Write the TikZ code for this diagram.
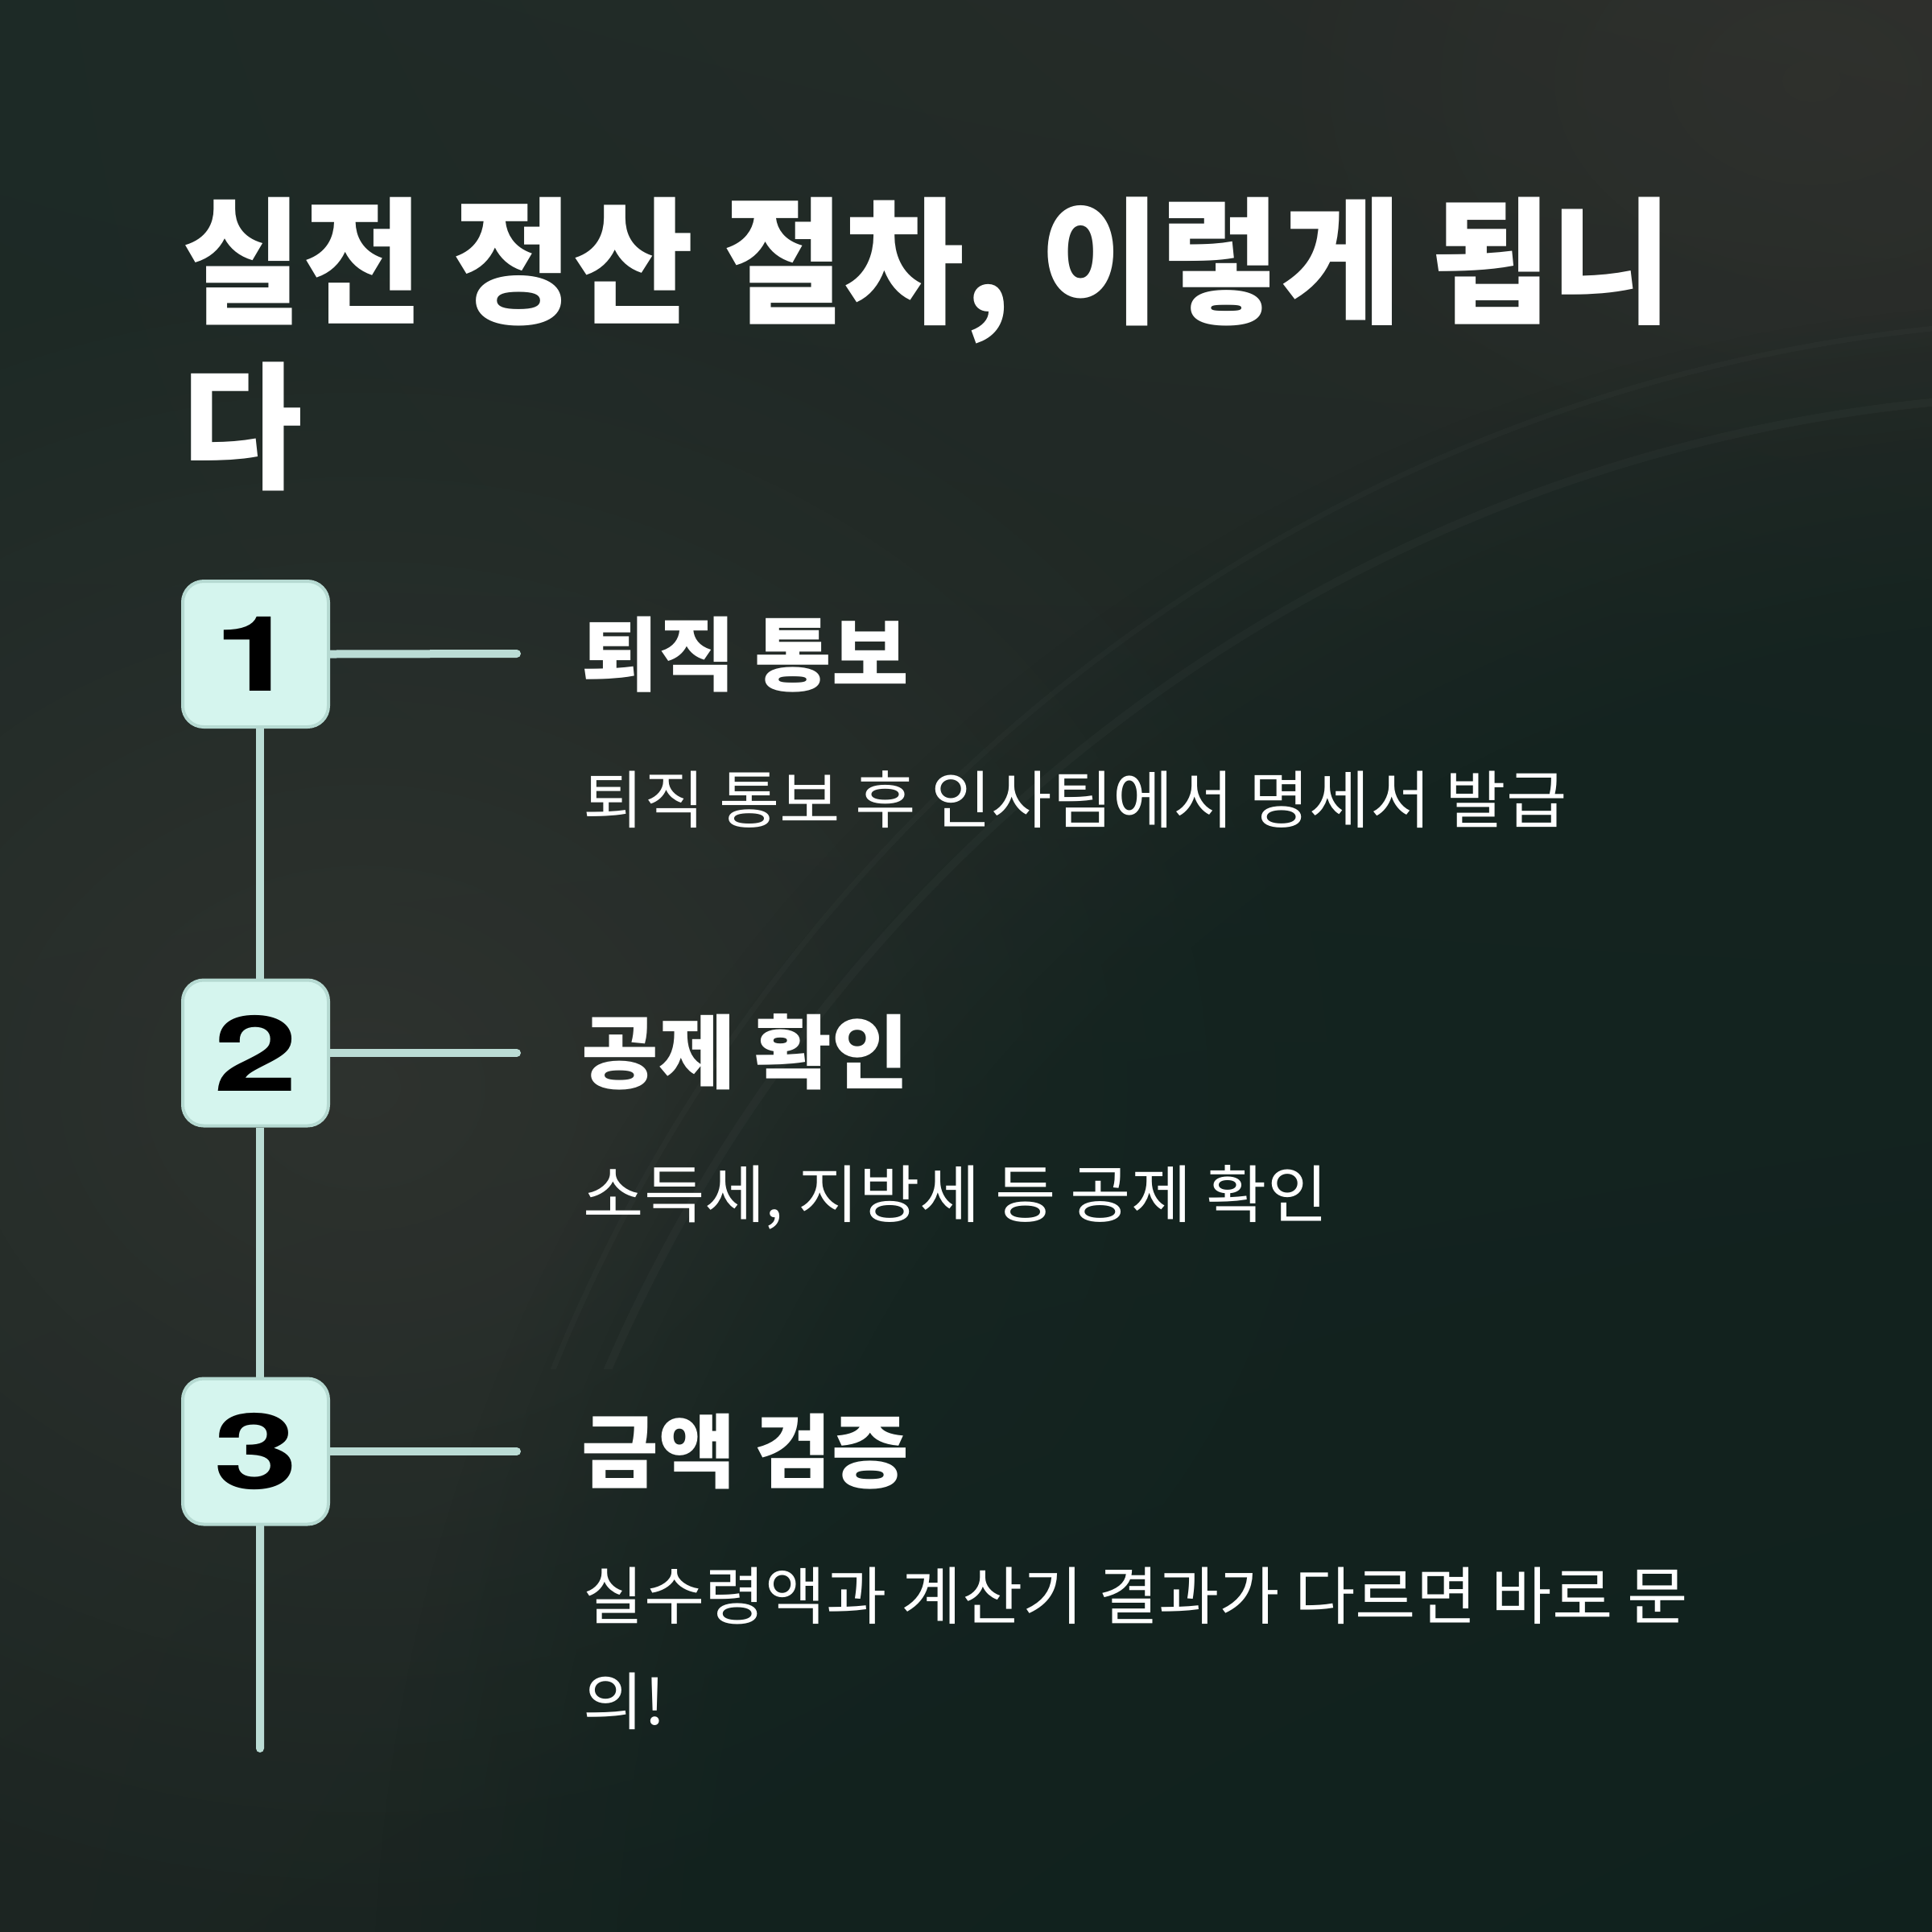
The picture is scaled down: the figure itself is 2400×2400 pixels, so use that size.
\documentclass[tikz,border=0pt]{standalone}
\usepackage{fontspec}
\setmainfont{Noto Sans CJK KR}
\newfontfamily\titlefont[FakeStretch=0.956]{Noto Sans CJK KR}
\newfontfamily\headfont[FakeStretch=1.04]{Noto Sans CJK KR}
\newfontfamily\descfont[FakeStretch=1.05]{Noto Sans CJK KR}
\newfontfamily\numfont[FakeStretch=1.45]{TeX Gyre Heros}
\usetikzlibrary{fadings,calc,shadings}
\definecolor{bgUL}{HTML}{1D2A26}
\definecolor{bgUR}{HTML}{2A2C29}
\definecolor{bgLL}{HTML}{1C2522}
\definecolor{bgLR}{HTML}{11211D}
\definecolor{teal}{HTML}{10221E}
\definecolor{glow}{HTML}{3A3A36}
\definecolor{boxfill}{HTML}{D5F5EE}
\definecolor{boxline}{HTML}{B6DAD2}
\definecolor{conn}{HTML}{BBDCD5}
\tikzfading[name=softc, inner color=transparent!0, outer color=transparent!100]
\pgfdeclareradialshading{edgesh}{\pgfpoint{0bp}{0bp}}{color(0bp)=(pgftransparent!0); color(20bp)=(pgftransparent!0); color(25bp)=(pgftransparent!100); color(50bp)=(pgftransparent!100)}
\pgfdeclarefading{edgefade}{\pgfuseshading{edgesh}}
\tikzfading[name=arcfade, top color=transparent!0, bottom color=transparent!100]
\tikzset{
  titletxt/.style={inner sep=0, anchor=base west, text=white, font=\titlefont\bfseries\fontsize{51pt}{61pt}\selectfont},
  headtxt/.style={inner sep=0, anchor=base west, text=white, font=\headfont\bfseries\fontsize{30pt}{36pt}\selectfont},
  desctxt/.style={inner sep=0, anchor=base west, text=white, font=\descfont\fontsize{23.4pt}{28pt}\selectfont},
  numbox/.style={draw=boxline, line width=1.2pt, fill=boxfill, rounded corners=7.8pt, minimum size=54.3pt, inner sep=0, text=black, font=\numfont\bfseries\fontsize{39pt}{39pt}\selectfont},
  connline/.style={draw=conn, line width=3pt}
}
\begin{document}
\begin{tikzpicture}[x=0.3pt,y=-0.3pt]
\useasboundingbox (0,0) rectangle (2400,2400);
% background
\shade[upper left=bgUL, upper right=bgUR, lower left=bgLL, lower right=bgLR] (0,0) rectangle (2400,2400);
\fill[glow, path fading=softc, fill opacity=0.6] (450,1350) ellipse [x radius=380pt, y radius=320pt];
\fill[glow, path fading=softc, fill opacity=0.35] (2250,100) ellipse [x radius=220pt, y radius=160pt];
\begin{scope}
\clip (0,0) rectangle (2400,2400);
\fill[teal, path fading=edgefade, fill opacity=0.7] (2600,2500) circle [radius=640pt];
\end{scope}
\begin{scope}
\clip (0,0) rectangle (2400,1700);
\draw[white, opacity=0.025, line width=3pt] (2600,2500) circle [radius=603pt];
\draw[white, opacity=0.018, line width=2pt] (2620,2480) circle [radius=625pt];
\end{scope}

% title
\node[titletxt] (t1) at (226,388) {실전 정산 절차, 이렇게 됩니};
\node[titletxt] (t2) at (226,593) {다};

% free ends of connectors
\coordinate (e1) at (642,812);
\coordinate (e2) at (642,1308);
\coordinate (e3) at (642,1803);
\coordinate (vend) at (323,2172);

% box placeholders
\path (317.5,812.5) node[numbox, draw=none, fill=none] (b1) {\phantom{1}};
\path (317.5,1308) node[numbox, draw=none, fill=none] (b2) {\phantom{2}};
\path (317.5,1803) node[numbox, draw=none, fill=none] (b3) {\phantom{3}};

\draw[connline, line cap=round] (b1.east) -- (e1);
\draw[connline, line cap=round] (b2.east) -- (e2);
\draw[connline, line cap=round] (b3.east) -- (e3);
\draw[connline] ($(b1.south)+(5.5,0)$) -- ($(b2.north)+(5.5,0)$);
\draw[connline] ($(b2.south)+(5.5,0)$) -- ($(b3.north)+(5.5,0)$);
\draw[connline, line cap=round] ($(b3.south)+(5.5,0)$) -- (vend);

\node[numbox] (n1) at (b1) {1};
\node[numbox] (n2) at (b2) {2};
\node[numbox] (n3) at (b3) {3};

% headings
\node[headtxt] (h1) at (722,850) {퇴직 통보};
\node[headtxt] (h2) at (722,1344) {공제 확인};
\node[headtxt] (h3) at (722,1840) {금액 검증};

% descriptions
\node[desctxt] (d1) at (724,1022) {퇴직 통보 후 인사팀에서 명세서 발급};
\node[desctxt] (d2) at (724,1512) {소득세, 지방세 등 공제 확인};
\node[desctxt] (d3a) at (724,2011) {실수령액과 계산기 결과가 다르면 바로 문};
\node[desctxt] (d3b) at (724,2142) {의!};
\end{tikzpicture}
\end{document}
